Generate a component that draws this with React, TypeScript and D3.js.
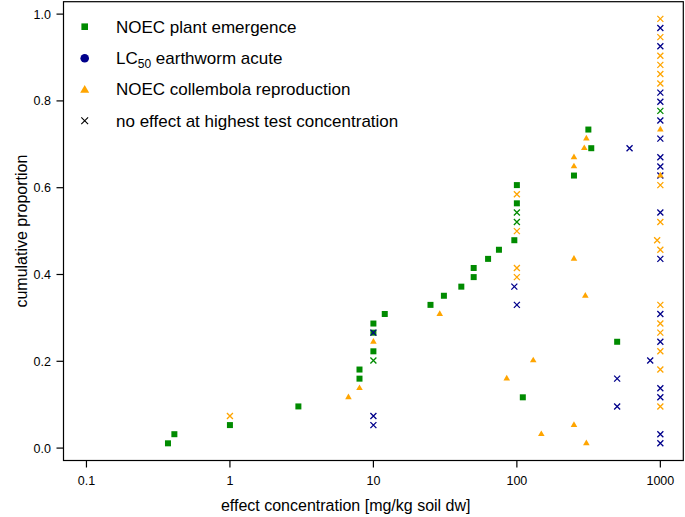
import React from "react";
import * as d3 from "d3";

// cumulative proportion values
const plantEffectX = [0.37, 0.41, 1, 3, 8, 8, 10, 10, 10, 12, 25, 31, 41, 50, 50, 63, 75, 96, 100, 100, 110, 250, 315, 330, 500];
const plantEffectY = [0.011, 0.032, 0.053, 0.096, 0.160, 0.181, 0.223, 0.266, 0.287, 0.309, 0.330, 0.351, 0.372, 0.394, 0.415, 0.436, 0.457, 0.479, 0.564, 0.606, 0.117, 0.628, 0.734, 0.691, 0.245];

const plantNoEffectX = [10, 100, 100, 1000];
const plantNoEffectY = [0.202, 0.521, 0.543, 0.777];

const wormEffectX: number[] = [];
const wormEffectY: number[] = [];

const wormNoEffectX = [10, 10, 10, 96, 100, 500, 500, 610, 850, 1000, 1000, 1000, 1000, 1000, 1000, 1000, 1000, 1000, 1000, 1000, 1000, 1000, 1000, 1000, 1000, 1000];
const wormNoEffectY = [0.053, 0.074, 0.266, 0.372, 0.330, 0.096, 0.160, 0.691, 0.202, 0.011, 0.032, 0.117, 0.138, 0.245, 0.309, 0.436, 0.543, 0.628, 0.649, 0.670, 0.713, 0.755, 0.798, 0.819, 0.926, 0.968];

const collEffectX = [6.7, 8, 10, 29, 85, 130, 148, 250, 250, 250, 250, 295, 305, 300, 305, 1000, 1000];
const collEffectY = [0.117, 0.138, 0.245, 0.309, 0.160, 0.202, 0.032, 0.053, 0.436, 0.649, 0.670, 0.691, 0.713, 0.351, 0.011, 0.734, 0.628];

const collNoEffectX = [1, 100, 100, 100, 100, 950, 1000, 1000, 1000, 1000, 1000, 1000, 1000, 1000, 1000, 1000, 1000, 1000, 1000, 1000, 1000];
const collNoEffectY = [0.074, 0.394, 0.415, 0.500, 0.585, 0.479, 0.989, 0.947, 0.904, 0.883, 0.862, 0.840, 0.606, 0.521, 0.457, 0.330, 0.287, 0.266, 0.223, 0.181, 0.096];

const xTicks = [0.1, 1, 10, 100, 1000];
const xTickLabels = ["0.1", "1", "10", "100", "1000"];
const yTicks = [0, 0.2, 0.4, 0.6, 0.8, 1.0];
const yTickLabels = ["0.0", "0.2", "0.4", "0.6", "0.8", "1.0"];

const legendLabels = ["NOEC plant emergence", "LC50 earthworm acute", "NOEC collembola reproduction", "no effect at highest test concentration"];

const GREEN = "#008B00";
const BLUE = "#00008B";
const ORANGE = "#FFA500";
const FONT = "'Liberation Sans', Arial, Helvetica, sans-serif";

const W = 685, H = 517;
const left = 63.5, right = 683.3, top = 1.7, bottom = 460.5;

const xScale = d3.scaleLog().domain([Math.pow(10, -1.16), Math.pow(10, 3.16)]).range([left, right]);
const yScale = d3.scaleLinear().domain([-0.0286, 1.0286]).range([bottom, top]);

function tri(cx: number, cy: number, r: number) {
  const hw = (r * Math.sqrt(3)) / 2;
  return `M${cx},${cy - r}L${cx + hw},${cy + r / 2}L${cx - hw},${cy + r / 2}Z`;
}
function cross(cx: number, cy: number, h: number) {
  return `M${cx - h},${cy - h}L${cx + h},${cy + h}M${cx - h},${cy + h}L${cx + h},${cy - h}`;
}

function Squares({ xs, ys, color }: { xs: number[]; ys: number[]; color: string }) {
  return (
    <g>
      {xs.map((v, i) => (
        <rect key={i} x={xScale(v) - 3} y={yScale(ys[i]) - 3} width={6} height={6} fill={color} />
      ))}
    </g>
  );
}
function Triangles({ xs, ys, color }: { xs: number[]; ys: number[]; color: string }) {
  return (
    <g>
      {xs.map((v, i) => (
        <path key={i} d={tri(xScale(v), yScale(ys[i]), 3.8)} fill={color} />
      ))}
    </g>
  );
}
function Circles({ xs, ys, color }: { xs: number[]; ys: number[]; color: string }) {
  return (
    <g>
      {xs.map((v, i) => (
        <circle key={i} cx={xScale(v)} cy={yScale(ys[i])} r={3.5} fill={color} />
      ))}
    </g>
  );
}
function Crosses({ xs, ys, color }: { xs: number[]; ys: number[]; color: string }) {
  return (
    <g>
      {xs.map((v, i) => (
        <path key={i} d={cross(xScale(v), yScale(ys[i]), 3)} stroke={color} strokeWidth={1.3} fill="none" />
      ))}
    </g>
  );
}

export default function App() {
  const legendY = [26.7, 58.3, 89.3, 120.7];
  const lx = 84.7;
  const tx = 116;
  return (
    <svg width={W} height={H} style={{ position: "absolute", left: 0, top: 0, background: "#fff" }} fontFamily={FONT}>
      <rect x={0} y={0} width={W} height={H} fill="#fff" />
      {/* points */}
      <Squares xs={plantEffectX} ys={plantEffectY} color={GREEN} />
      <Crosses xs={plantNoEffectX} ys={plantNoEffectY} color={GREEN} />
      <Circles xs={wormEffectX} ys={wormEffectY} color={BLUE} />
      <Crosses xs={wormNoEffectX} ys={wormNoEffectY} color={BLUE} />
      <Triangles xs={collEffectX} ys={collEffectY} color={ORANGE} />
      <Crosses xs={collNoEffectX} ys={collNoEffectY} color={ORANGE} />

      {/* box */}
      <rect x={left} y={top} width={right - left} height={bottom - top} fill="none" stroke="#000" strokeWidth={1.2} />

      {/* x axis */}
      {xTicks.map((t, i) => (
        <g key={i}>
          <line x1={xScale(t)} x2={xScale(t)} y1={bottom} y2={bottom + 7} stroke="#000" strokeWidth={1.2} />
          <text x={xScale(t)} y={485} textAnchor="middle" fontSize={12.5} fill="#000">
            {xTickLabels[i]}
          </text>
        </g>
      ))}
      {/* y axis */}
      {yTicks.map((t, i) => (
        <g key={i}>
          <line x1={left - 7} x2={left} y1={yScale(t)} y2={yScale(t)} stroke="#000" strokeWidth={1.2} />
          <text x={51} y={yScale(t) + 4.5} textAnchor="end" fontSize={12.5} fill="#000">
            {yTickLabels[i]}
          </text>
        </g>
      ))}

      <text x={345.7} y={511} textAnchor="middle" fontSize={16} fill="#000">
        effect concentration [mg/kg soil dw]
      </text>
      <text transform={`translate(27,${(top + bottom) / 2}) rotate(-90)`} textAnchor="middle" fontSize={16} fill="#000">
        cumulative proportion
      </text>

      {/* legend */}
      <rect x={lx - 3.3} y={legendY[0] - 3.3} width={6.6} height={6.6} fill={GREEN} />
      <circle cx={lx} cy={legendY[1]} r={4.3} fill={BLUE} />
      <path d={tri(lx, legendY[2] + 0.8, 5.2)} fill={ORANGE} />
      <path d={cross(lx, legendY[3], 3.4)} stroke="#000" strokeWidth={1.1} fill="none" />
      <text x={tx} y={legendY[0] + 6} fontSize={17} fill="#000">{legendLabels[0]}</text>
      <text x={tx} y={legendY[1] + 6} fontSize={17} fill="#000">
        LC
        <tspan fontSize={12} dy={4}>50</tspan>
        <tspan dy={-4}> earthworm acute</tspan>
      </text>
      <text x={tx} y={legendY[2] + 6} fontSize={17} fill="#000">{legendLabels[2]}</text>
      <text x={tx} y={legendY[3] + 6} fontSize={17} fill="#000">{legendLabels[3]}</text>
    </svg>
  );
}
